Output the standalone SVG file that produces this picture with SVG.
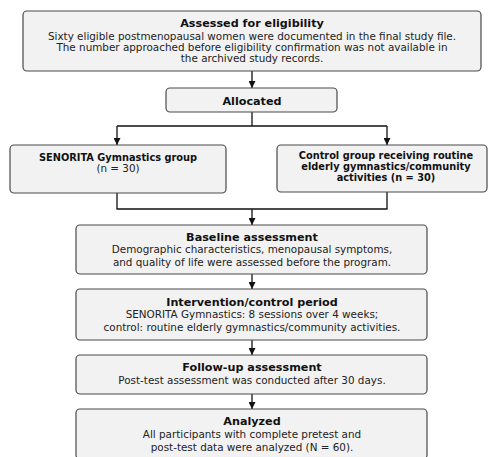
<svg xmlns="http://www.w3.org/2000/svg" width="489" height="457" viewBox="0 0 489 457">
<defs>
<marker id="ah" viewBox="0 0 10 10" refX="10" refY="5" markerWidth="7" markerHeight="7" markerUnits="userSpaceOnUse" orient="auto"><path d="M0,0 L10,5 L0,10 z" fill="#111"/></marker>
</defs>
<style>
.box{fill:#f2f2f2;stroke:#4a4a4a;stroke-width:1.2}
.t{font-family:"DejaVu Sans",sans-serif;font-weight:bold;font-size:11.2px;fill:#111;text-anchor:middle}
.g{font-family:"DejaVu Sans",sans-serif;font-weight:bold;font-size:9.8px;fill:#111;text-anchor:middle}
.b{font-family:"DejaVu Sans",sans-serif;font-size:10.4px;fill:#222;text-anchor:middle}
.c{fill:none;stroke:#111;stroke-width:1.3}
</style>
<rect width="489" height="457" fill="#fff"/>
<g id="connectors">
<line class="c" x1="252" y1="71" x2="252" y2="88" marker-end="url(#ah)"/>
<polyline class="c" points="252,112 252,126"/>
<polyline class="c" points="117,126 387,126"/>
<line class="c" x1="117" y1="126" x2="117" y2="145" marker-end="url(#ah)"/>
<line class="c" x1="387" y1="126" x2="387" y2="145" marker-end="url(#ah)"/>
<polyline class="c" points="117,193 117,209 387,209 387,192"/>
<line class="c" x1="252" y1="209" x2="252" y2="225" marker-end="url(#ah)"/>
<line class="c" x1="252" y1="274" x2="252" y2="289" marker-end="url(#ah)"/>
<line class="c" x1="252" y1="340" x2="252" y2="355" marker-end="url(#ah)"/>
<line class="c" x1="252" y1="394" x2="252" y2="409" marker-end="url(#ah)"/>
</g>
<g id="eligibility">
<rect class="box" x="23" y="11" width="458" height="60" rx="4"/>
<text class="t" x="252" y="27">Assessed for eligibility</text>
<text class="b" x="252" y="39.5" font-size="10.2">Sixty eligible postmenopausal women were documented in the final study file.</text>
<text class="b" x="252" y="50.5" font-size="10.2">The number approached before eligibility confirmation was not available in</text>
<text class="b" x="252" y="61.5" font-size="10.2">the archived study records.</text>
</g>
<g id="allocated">
<rect class="box" x="166" y="88" width="171" height="24" rx="4"/>
<text class="t" x="252" y="104.5" font-size="12">Allocated</text>
</g>
<g id="senorita">
<rect class="box" x="10" y="145" width="216" height="48" rx="4"/>
<text class="g" x="118" y="160.5">SENORITA Gymnastics group</text>
<text class="b" x="118" y="172">(n = 30)</text>
</g>
<g id="control">
<rect class="box" x="277" y="145" width="210" height="47" rx="4"/>
<text class="g" x="386" y="159">Control group receiving routine</text>
<text class="g" x="386" y="170">elderly gymnastics/community</text>
<text class="g" x="386" y="181">activities (n = 30)</text>
</g>
<g id="baseline">
<rect class="box" x="76" y="225" width="351" height="49" rx="4"/>
<text class="t" x="252" y="240.5">Baseline assessment</text>
<text class="b" x="252" y="252.5">Demographic characteristics, menopausal symptoms,</text>
<text class="b" x="252" y="265.5">and quality of life were assessed before the program.</text>
</g>
<g id="intervention">
<rect class="box" x="76" y="289" width="351" height="51" rx="4"/>
<text class="t" x="252" y="305.5">Intervention/control period</text>
<text class="b" x="252" y="318">SENORITA Gymnastics: 8 sessions over 4 weeks;</text>
<text class="b" x="252" y="331">control: routine elderly gymnastics/community activities.</text>
</g>
<g id="followup">
<rect class="box" x="76" y="355" width="351" height="39" rx="4"/>
<text class="t" x="252" y="370.5">Follow-up assessment</text>
<text class="b" x="252" y="384">Post-test assessment was conducted after 30 days.</text>
</g>
<g id="analyzed">
<rect class="box" x="76" y="409" width="351" height="50" rx="4"/>
<text class="t" x="252" y="425">Analyzed</text>
<text class="b" x="252" y="438">All participants with complete pretest and</text>
<text class="b" x="252" y="451">post-test data were analyzed (N = 60).</text>
</g>
</svg>
